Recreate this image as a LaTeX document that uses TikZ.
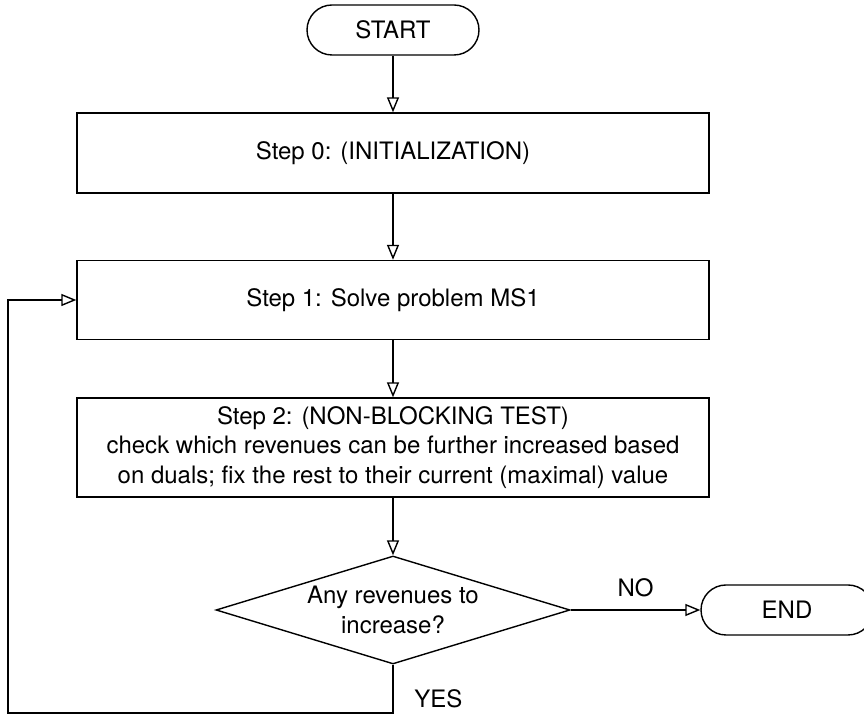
\documentclass[tikz,border=0pt]{standalone}
\usepackage{fontspec}
\setmainfont{TeX Gyre Heros}
\usepackage{tikz}
\usetikzlibrary{shapes,arrows.meta}
\usetikzlibrary{positioning}
\tikzset{every node/.style={font=\fontsize{12}{14.75}\selectfont},
terminal/.style={draw, rectangle, rounded corners=12.5pt, minimum width=86pt, minimum height=25pt},
stepbox/.style={draw, rectangle, minimum width=316pt},
decision/.style={draw, diamond, aspect=3.28, minimum width=177pt, minimum height=54pt, inner sep=0pt},
flow/.style={-{Triangle[open,length=7.5pt,width=6pt]}}
}

\begin{document}
\begin{tikzpicture}[node distance=2cm, on grid, line width=0.7pt]
        \useasboundingbox (0,0) rectangle (432pt,-357.5pt);
        \node[terminal] (start) at (196.5pt,-15pt) {START};
        \node[stepbox, minimum height=40pt]   (step0) [below=61.5pt of start]  {Step 0: (INITIALIZATION)};
        \node[stepbox, minimum height=39.5pt] (step1) [below=73.5pt of step0]  {Step 1: Solve problem MS1};
        \node[stepbox, minimum height=49.5pt, align=center] (step2) [below=73.75pt of step1]
              {Step 2: (NON-BLOCKING TEST)\\check which revenues can be further increased based\\on duals; fix the rest to their current (maximal) value};
        \node[decision, align=center] (test) [below=81.25pt of step2] {Any revenues to\\increase?};
        \node[terminal] (stop) [right=197pt of test] {END};
        \coordinate (back) at (4pt,-356.5pt);

        \draw[flow] (start) -- (step0);
        \draw[flow] (step0) -- (step1);
        \draw[flow] (step1) -- (step2);
        \draw[flow] (step2) -- (test);
        \draw[flow] (test) -- node [above=3pt] {NO} (stop);
        \draw[flow] (test.south) |- node [pos=0.35, right=7pt] {YES} (back) |- (step1.west);
      \end{tikzpicture}
\end{document}
